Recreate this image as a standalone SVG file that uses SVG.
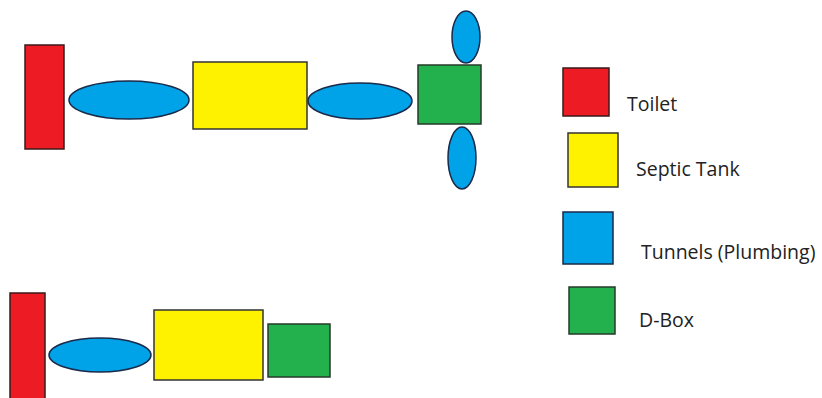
<svg xmlns="http://www.w3.org/2000/svg" width="822" height="398" viewBox="0 0 822 398">
<style>
.r{fill:#ed1c24;stroke:#3a1a1a;stroke-width:1.5}
.y{fill:#fff200;stroke:#333;stroke-width:1.5}
.b{fill:#00a2e8;stroke:#1a2a4a;stroke-width:1.5}
.g{fill:#22b14c;stroke:#263a2a;stroke-width:1.5}
.t{font-family:"Open Sans","DejaVu Sans",sans-serif;font-size:19.5px;fill:#222}
</style>
<rect width="822" height="398" fill="#fff"/>
<g id="top-toilet"><rect class="r" x="25" y="45" width="39" height="104"/></g>
<g id="top-pipe1"><ellipse class="b" cx="129" cy="100" rx="60" ry="19"/></g>
<g id="top-tank"><rect class="y" x="193" y="62" width="114" height="67"/></g>
<g id="top-pipe2"><ellipse class="b" cx="360" cy="101" rx="52" ry="18"/></g>
<g id="top-dbox"><rect class="g" x="418" y="65" width="63" height="59"/></g>
<g id="top-pipe3"><ellipse class="b" cx="466" cy="37" rx="14" ry="26"/></g>
<g id="top-pipe4"><ellipse class="b" cx="462" cy="158" rx="14" ry="31"/></g>
<g id="bot-toilet"><rect class="r" x="10" y="293" width="35" height="110"/></g>
<g id="bot-pipe"><ellipse class="b" cx="100" cy="355" rx="51" ry="17"/></g>
<g id="bot-tank"><rect class="y" x="154" y="310" width="109" height="70"/></g>
<g id="bot-dbox"><rect class="g" x="268" y="324" width="62" height="53"/></g>
<g id="legend-toilet"><rect class="r" x="563" y="68" width="46" height="48"/><text class="t" x="627" y="111">Toilet</text></g>
<g id="legend-tank"><rect class="y" x="568" y="133" width="50" height="54"/><text class="t" x="636" y="176">Septic Tank</text></g>
<g id="legend-tunnels"><rect class="b" x="563" y="212" width="50" height="52"/><text class="t" x="641" y="259">Tunnels (Plumbing)</text></g>
<g id="legend-dbox"><rect class="g" x="569" y="287" width="46" height="47"/><text class="t" x="639" y="327">D-Box</text></g>
<g id="connectors"></g>
</svg>
